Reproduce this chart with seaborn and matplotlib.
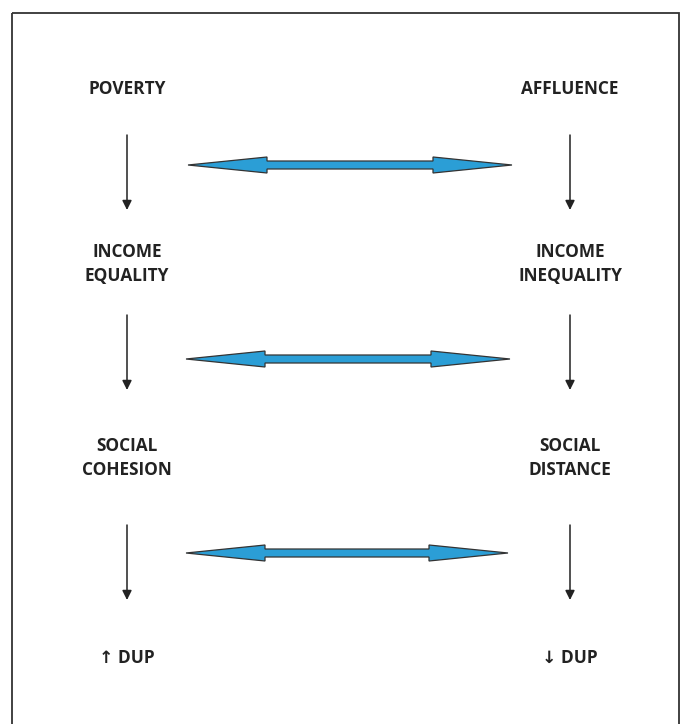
import matplotlib
matplotlib.use("Agg")
import matplotlib.pyplot as plt
import matplotlib.patches as mpatches
import seaborn as sns

# diagram content
left_labels = ["POVERTY", "INCOME\nEQUALITY", "SOCIAL\nCOHESION", "\u2191 DUP"]
right_labels = ["AFFLUENCE", "INCOME\nINEQUALITY", "SOCIAL\nDISTANCE", "\u2193 DUP"]
row_y = [89, 264, 458, 658]
down_arrows = [(135, 210), (315, 390), (525, 600)]
link_y = [165, 359, 553]
link_x = [(188, 512), (186, 510), (186, 508)]

col_x = {"left": 127, "right": 570}
blue = "#2b9ed6"

sns.set_theme(style="white")
plt.rcParams["font.family"] = ["Open Sans", "DejaVu Sans"]

fig = plt.figure(figsize=(6.81, 7.24), dpi=100)
ax = fig.add_axes([0, 0, 1, 1])
ax.set_xlim(0, 681)
ax.set_ylim(724, 0)
ax.axis("off")

# frame
ax.add_patch(mpatches.Rectangle((12, 13), 667, 730, fill=False,
                                edgecolor="#333333", linewidth=1.3))

for side, labels in (("left", left_labels), ("right", right_labels)):
    x = col_x[side]
    for lab, y in zip(labels, row_y):
        ax.text(x, y, lab, ha="center", va="center", fontsize=12.4,
                fontweight="bold", color="#222222", linespacing=1.45)
    for y0, y1 in down_arrows:
        ax.annotate("", xy=(x, y1), xytext=(x, y0),
                    arrowprops=dict(arrowstyle="-|>", color="#222222",
                                    lw=1.1, mutation_scale=14,
                                    shrinkA=0, shrinkB=0))


def double_arrow(x0, x1, y, half_shaft=4, half_head=8, head_len=79):
    pts = [
        (x0, y),
        (x0 + head_len, y - half_head),
        (x0 + head_len, y - half_shaft),
        (x1 - head_len, y - half_shaft),
        (x1 - head_len, y - half_head),
        (x1, y),
        (x1 - head_len, y + half_head),
        (x1 - head_len, y + half_shaft),
        (x0 + head_len, y + half_shaft),
        (x0 + head_len, y + half_head),
    ]
    ax.add_patch(mpatches.Polygon(pts, closed=True, facecolor=blue,
                                  edgecolor="#333333", linewidth=0.9))


for (x0, x1), y in zip(link_x, link_y):
    double_arrow(x0, x1, y)

fig.savefig("out.png", dpi=100, facecolor="white")
